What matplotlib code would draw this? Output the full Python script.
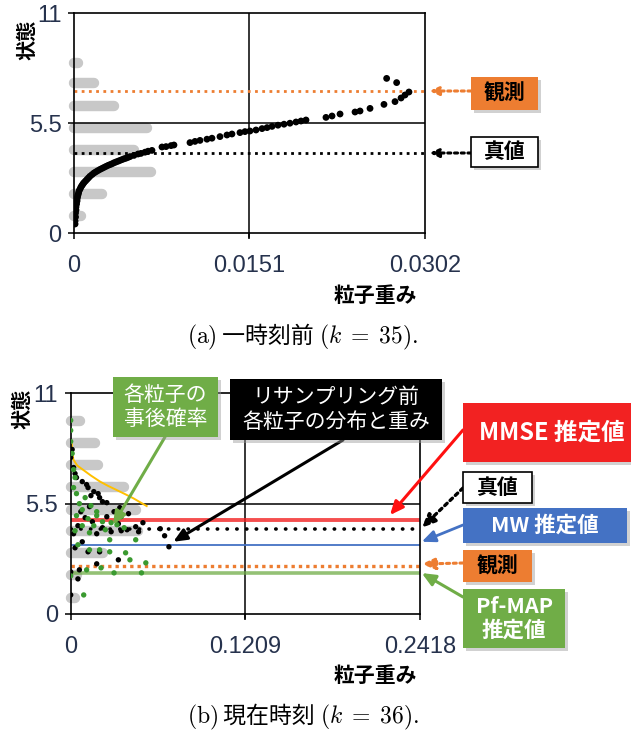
import numpy as np
import matplotlib.pyplot as plt
from matplotlib.patches import Rectangle
from matplotlib.transforms import blended_transform_factory

plt.rcParams['font.family'] = ['Liberation Sans', 'Noto Sans CJK JP']
plt.rcParams['mathtext.fontset'] = 'cm'

W, H = 631, 738

# ---- (a) k = 35 ----
xmax_a = 0.0302
hist_lv_a = [0.85, 1.95, 3.07, 4.15, 5.23, 6.35, 7.5, 8.5]
hist_a = [7, 28, 77, 60, 73, 40, 20, 4]
w_a = [0.00009, 0.00009, 0.00013, 0.00013, 0.00017, 0.00017, 0.00022, 0.00026, 0.00026,
       0.00030, 0.00034, 0.00039, 0.00043, 0.00052, 0.00060, 0.00069, 0.00077, 0.00086,
       0.00099, 0.00112, 0.00125, 0.00138, 0.00155, 0.00172, 0.00189, 0.00206, 0.00224,
       0.00241, 0.00258, 0.00275, 0.00293, 0.00310, 0.00327, 0.00344, 0.00361, 0.00379,
       0.00396, 0.00413, 0.00430, 0.00447, 0.00465, 0.00482, 0.00516, 0.00551, 0.00576,
       0.00611, 0.00637, 0.00671, 0.00757, 0.00792, 0.00835, 0.00860, 0.00998, 0.01041,
       0.01084, 0.01144, 0.01187, 0.01256, 0.01316, 0.01359, 0.01428, 0.01471, 0.01514,
       0.01566, 0.01618, 0.01661, 0.01704, 0.01755, 0.01807, 0.01858, 0.01910, 0.01953,
       0.01996, 0.02168, 0.02220, 0.02289, 0.02418, 0.02461, 0.02547, 0.02667, 0.02762,
       0.02814, 0.02848, 0.02882, 0.02690, 0.02776]
x_a = [0.45, 0.6, 0.8, 1.0, 1.15, 1.3, 1.45, 1.6, 1.7,
       1.8, 1.9, 2.0, 2.1, 2.2, 2.3, 2.38, 2.45, 2.52,
       2.6, 2.68, 2.76, 2.84, 2.92, 3.0, 3.06, 3.12, 3.18,
       3.23, 3.28, 3.33, 3.38, 3.42, 3.46, 3.51, 3.55, 3.59,
       3.63, 3.67, 3.71, 3.74, 3.78, 3.82, 3.88, 3.95, 3.98,
       4.04, 4.09, 4.13, 4.3, 4.32, 4.37, 4.4, 4.52, 4.58,
       4.63, 4.69, 4.74, 4.82, 4.9, 4.95, 5.02, 5.07, 5.1,
       5.15, 5.22, 5.27, 5.33, 5.39, 5.44, 5.49, 5.55, 5.6,
       5.65, 5.78, 5.85, 5.95, 6.05, 6.1, 6.23, 6.43, 6.57,
       6.75, 6.9, 7.05, 7.73, 7.52]
obs_a = 7.1
true_a = 4.0

# ---- (b) k = 36 ----
xmax_b = 0.2418
hist_lv_b = [0.81, 1.94, 3.06, 4.15, 5.18, 6.35, 7.43, 8.5, 9.64]
hist_b = [4, 6, 32, 67, 65, 53, 27, 24, 9]
wb_black = [0.001, 0.000, 0.002, 0.003, 0.004, 0.008, 0.011, 0.012, 0.016, 0.019, 0.020,
            0.022, 0.014, 0.025, 0.013, 0.034, 0.025, 0.040, 0.050, 0.039, 0.062, 0.065,
            0.068, 0.033, 0.028, 0.045, 0.010, 0.005, 0.002, 0.018, 0.008, 0.003, 0.012,
            0.020, 0.033, 0.018, 0.006, 0.000, 0.005, 0.000, 0.015, 0.030, 0.007, 0.022,
            0.035, 0.047]
xb_black = [8.2, 7.8, 7.3, 7.0, 6.8, 6.6, 6.45, 6.3, 6.1, 6.0, 5.8,
            5.6, 5.9, 5.55, 5.35, 5.3, 4.85, 5.0, 4.55, 4.2, 4.25, 3.9,
            3.35, 4.5, 4.1, 4.35, 4.8, 4.4, 4.0, 4.0, 3.6, 3.3, 3.1,
            3.1, 2.7, 2.5, 2.2, 2.1, 1.75, 0.95, 4.6, 5.1, 5.1, 4.3,
            4.15, 4.1]
wb_green = [0.000, 0.000, 0.000, 0.001, 0.002, 0.003, 0.002, 0.004, 0.010, 0.006, 0.014,
            0.008, 0.018, 0.004, 0.012, 0.022, 0.028, 0.032, 0.037, 0.016, 0.008, 0.024,
            0.003, 0.013, 0.045, 0.027, 0.005, 0.013, 0.020, 0.027, 0.038, 0.041, 0.052,
            0.021, 0.011, 0.030, 0.049, 0.009, 0.000, 0.018, 0.035]
xb_green = [9.65, 9.15, 8.6, 8.0, 7.2, 6.8, 6.3, 6.0, 5.8, 5.5, 5.4,
            5.2, 5.1, 4.9, 4.75, 4.6, 4.55, 4.45, 4.3, 4.4, 4.4, 4.2,
            4.15, 4.05, 3.7, 3.7, 3.45, 3.2, 3.2, 3.1, 3.05, 2.7, 2.55,
            2.3, 2.2, 2.05, 2.05, 0.95, 1.9, 4.9, 4.85]
curve_w = [0.0005, 0.0018, 0.0045, 0.0087, 0.014, 0.0203, 0.026, 0.0318, 0.0375, 0.0433, 0.0526]
curve_x = [8.6, 7.7, 7.4, 7.18, 6.9, 6.6, 6.38, 6.18, 5.98, 5.77, 5.38]
mmse_b = 4.69
true_b = 4.22
mw_b = 3.44
obs_b = 2.41
map_b = 2.03

ORANGE = '#ED7D31'
GREEN = '#70AD47'
BLUE = '#4472C4'
RED = '#F22222'
TICK = '#26324d'


def fig_xy(px, py):
    return px / W, 1 - py / H


def setup_axes(ax, xmax):
    ax.set_xlim(0, xmax)
    ax.set_ylim(0, 11)
    ax.set_xticks([0, xmax / 2, xmax])
    ax.set_xticklabels(['0', '%g' % (xmax / 2), '%g' % xmax])
    ax.set_yticks([0, 5.5, 11])
    ax.set_yticklabels(['0', '5.5', '11'])
    ax.tick_params(direction='out', length=4, width=1.1, labelsize=17,
                   labelcolor=TICK, color='black')
    ax.tick_params(axis='x', pad=12)
    ax.tick_params(axis='y', pad=5)
    for s in ax.spines.values():
        s.set_linewidth(1.2)
    ax.axhline(5.5, color='black', lw=1.1, zorder=1)
    ax.axvline(xmax / 2, color='black', lw=1.1, zorder=1)
    # middle gridline runs down past the axis like a tick
    ax.plot([xmax / 2, xmax / 2], [0, -0.2], color='black', lw=1.1, clip_on=False)


def hist_bars(ax, levels, lengths, unit):
    tr = blended_transform_factory(ax.transAxes, ax.transData)
    for lv, ln in zip(levels, lengths):
        ax.plot([0, ln * unit], [lv, lv], transform=tr, color='#c8c8c8', lw=7.5,
                solid_capstyle='round', clip_on=False, zorder=0.5)


def box(px0, py0, px1, py1, text, face, tcolor, size, weight='bold', edge=None, ls=1.15):
    x0, y1 = fig_xy(px0, py0)
    x1, y0 = fig_xy(px1, py1)
    sh = Rectangle((x0 + 3 / W, y0 - 3 / H), x1 - x0, y1 - y0, transform=fig.transFigure,
                   facecolor='#999999', alpha=0.45, edgecolor='none', zorder=5)
    fig.add_artist(sh)
    r = Rectangle((x0, y0), x1 - x0, y1 - y0, transform=fig.transFigure, facecolor=face,
                  edgecolor=edge if edge else 'none', lw=1.2, zorder=6)
    fig.add_artist(r)
    fig.text((x0 + x1) / 2, (y0 + y1) / 2, text, ha='center', va='center', color=tcolor,
             fontsize=size, fontweight=weight, family='Noto Sans CJK JP',
             linespacing=ls, zorder=7)


def arrow(ax, xy, start, color, ls='-', lw=2.0, hl=0.55, hw=0.25, coords='data'):
    if coords == 'data':
        xyc = 'data'
    else:
        xyc = blended_transform_factory(ax.transAxes, ax.transData)
    ax.annotate('', xy=xy, xycoords=xyc, xytext=fig_xy(*start), textcoords='figure fraction',
                arrowprops=dict(arrowstyle='-|>,head_length=%g,head_width=%g' % (hl, hw),
                                color=color, lw=lw, linestyle=ls, shrinkA=0, shrinkB=0),
                annotation_clip=False, zorder=8)


def caption(px, py, label, title, kval):
    # roman label, japanese title, then the math part, chained on one baseline
    x, y = fig_xy(px, py)
    t1 = fig.text(x, y, r'$\mathrm{(%s)}$' % label, fontsize=17, va='baseline', ha='left')
    t2 = fig.text(0, 0, '')
    t2.remove()
    t2 = plt.annotate(' ' + title + ' ', xy=(1, y), xycoords=(t1, 'figure fraction'),
                      fontsize=16.5, va='baseline', ha='left', family='Noto Sans CJK JP',
                      annotation_clip=False)
    plt.annotate(r'$(k\;=\;%d).$' % kval, xy=(1, y), xycoords=(t2, 'figure fraction'),
                 fontsize=17, va='baseline', ha='left', annotation_clip=False)


fig = plt.figure(figsize=(W / 100, H / 100), dpi=100)

# panel (a)
ax1 = fig.add_axes([74 / W, 1 - 233 / H, 351 / W, 220 / H])
setup_axes(ax1, xmax_a)
hist_bars(ax1, hist_lv_a, hist_a, 1 / 351)
ax1.axhline(obs_a, color=ORANGE, lw=2.0, ls=(0, (1, 1.6)), zorder=2)
ax1.axhline(true_a, color='black', lw=2.0, ls=(0, (1, 1.6)), zorder=2)
ax1.scatter(w_a, x_a, s=24, color='black', edgecolors='none', zorder=3)
ax1.set_ylabel('状態', fontsize=14.5, fontweight='bold', family='Noto Sans CJK JP')
ax1.yaxis.set_label_coords(-0.103, 0.877)
ax1.set_xlabel('粒子重み', fontsize=15, fontweight='bold', family='Noto Sans CJK JP')
ax1.xaxis.set_label_coords(0.858, -0.236)

box(471, 77, 538, 110, '観測', ORANGE, 'black', 15)
box(471, 137, 538, 167, '真値', 'white', 'black', 15, edge='black')
arrow(ax1, (1.012, obs_a), (471, 91), ORANGE, ls=(0, (1, 1.2)), lw=2.2, coords='ax')
arrow(ax1, (1.012, true_a), (471, 153), 'black', ls=(0, (1, 1.2)), lw=2.2, coords='ax')

# panel (b)
ax2 = fig.add_axes([70.7 / W, 1 - 614 / H, 349.3 / W, 220.7 / H])
setup_axes(ax2, xmax_b)
hist_bars(ax2, hist_lv_b, hist_b, 1 / 349.3)
ax2.plot(curve_w, curve_x, color='#FFC000', lw=1.4, zorder=2)
ax2.axhline(mmse_b, color=RED, lw=2.8, alpha=0.8, zorder=2)
ax2.axhline(true_b, color='black', lw=2.6, ls=(0, (0.1, 2.6)), dash_capstyle='round', zorder=2)
ax2.axhline(mw_b, color=BLUE, lw=1.3, zorder=2)
ax2.axhline(obs_b, color=ORANGE, lw=2.4, ls=(0, (1, 1.2)), zorder=2)
ax2.axhline(map_b, color=GREEN, lw=2.6, alpha=0.75, zorder=2)
ax2.scatter(wb_black, xb_black, s=15, color='black', edgecolors='none', zorder=3)
ax2.scatter(wb_green, xb_green, s=15, color='#3a9a30', edgecolors='none', zorder=4)
ax2.set_ylabel('状態', fontsize=14.5, fontweight='bold', family='Noto Sans CJK JP')
ax2.yaxis.set_label_coords(-0.111, 0.929)
ax2.set_xlabel('粒子重み', fontsize=15, fontweight='bold', family='Noto Sans CJK JP')
ax2.xaxis.set_label_coords(0.871, -0.231)

box(113, 377, 218, 437, '各粒子の\n事後確率', GREEN, 'white', 15, weight='normal')
box(230, 379, 442, 440, 'リサンプリング前\n各粒子の分布と重み', 'black', 'white', 15, weight='normal')
box(463, 403, 640, 462, 'MMSE 推定値', RED, 'white', 17)
box(463, 472, 532, 503, '真値', 'white', 'black', 15, edge='black')
box(463, 508, 627, 543, 'MW 推定値', BLUE, 'white', 15.5)
box(463, 550, 532, 582, '観測', ORANGE, 'black', 15)
box(463, 589, 565, 648, 'Pf-MAP\n推定値', GREEN, 'white', 15.5)

arrow(ax2, (0.0293, 4.44), (165, 437), GREEN, lw=2.2, hl=0.8, hw=0.35)
arrow(ax2, (0.071, 3.6), (343, 440), 'black', lw=2.2, hl=0.8, hw=0.35)
arrow(ax2, (0.221, 4.93), (463, 430), '#FF1010', lw=2.2, hl=0.8, hw=0.35)
arrow(ax2, (1.005, 4.3), (463, 488), 'black', ls=(0, (1, 1.2)), lw=2.4, hl=0.8, hw=0.35, coords='ax')
arrow(ax2, (1.005, 3.6), (463, 525), BLUE, lw=2.0, hl=0.8, hw=0.35, coords='ax')
arrow(ax2, (1.005, 2.49), (463, 563), ORANGE, ls=(0, (1, 1.2)), lw=2.2, hl=0.8, hw=0.35, coords='ax')
arrow(ax2, (1.005, 2.04), (463, 597), GREEN, lw=2.2, hl=0.8, hw=0.35, coords='ax')

caption(187, 343, 'a', '一時刻前', 35)
caption(187, 723, 'b', '現在時刻', 36)

fig.savefig('out.png', dpi=100)
